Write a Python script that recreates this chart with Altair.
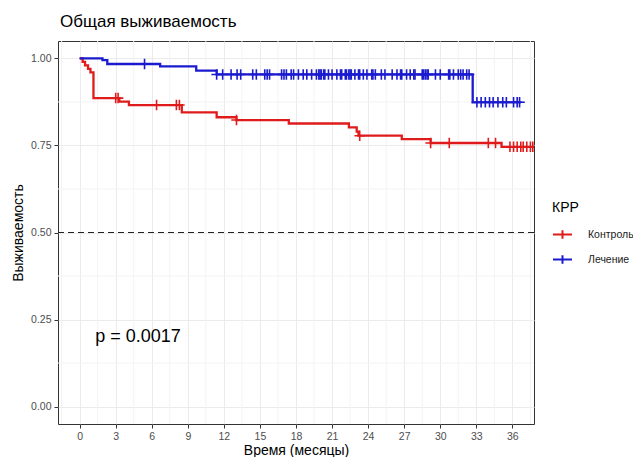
import altair as alt
import pandas as pd

FONT = "Liberation Sans"

# Kaplan-Meier step data (time in months, survival probability)
groups = ["Контроль", "Лечение"]
colors = ["#E01B1B", "#1A1ACF"]

red_t = [0, 0.25, 0.45, 0.7, 0.9, 1.15, 3.3, 4.1, 8.5, 11.4, 13.05, 17.4, 22.4, 23.05, 23.2, 26.8, 29.2, 35.1, 37.9]
red_s = [1.0, 0.99, 0.98, 0.97, 0.96, 0.886, 0.876, 0.866, 0.845, 0.831, 0.823, 0.813, 0.802, 0.79, 0.778, 0.768, 0.757, 0.746, 0.746]
red_cens = [3.0, 3.2, 6.4, 8.05, 8.3, 13.05, 23.3, 29.2, 30.75, 34.0, 34.6, 35.8, 36.1, 36.4, 36.7, 36.9, 37.2, 37.5, 37.7]

blue_t = [0, 1.9, 2.3, 6.7, 9.7, 11.4, 32.7, 36.7]
blue_s = [1.0, 0.995, 0.984, 0.977, 0.965, 0.954, 0.874, 0.874]
blue_cens = [5.4, 11.4, 11.9, 12.6, 13.1, 13.4, 14.4, 14.7, 15.4, 15.6, 15.8, 16.8, 17.0, 17.2,
             17.6, 17.8, 18.2, 18.6, 18.9, 19.3, 19.7, 19.9, 20.0, 20.1, 20.3, 20.4, 20.7, 21.0,
             21.4, 21.7, 21.8, 22.1, 22.2, 22.4, 22.5, 22.6, 22.9, 23.2, 23.3, 23.6, 23.9, 24.3,
             24.4, 24.6, 25.1, 25.4, 26.0, 26.4, 26.7, 26.8, 27.2, 27.5, 27.8, 27.9, 28.5, 28.6,
             28.75, 28.9, 29.0, 29.6, 30.0, 30.7, 30.8, 31.1, 31.5, 31.7, 31.9, 32.2, 32.4,
             33.05, 33.4, 33.75, 34.1, 34.4, 34.8, 35.2, 35.5, 36.1, 36.4, 36.6]

x_ticks = [0, 3, 6, 9, 12, 15, 18, 21, 24, 27, 30, 33, 36]
y_ticks = [0.0, 0.25, 0.5, 0.75, 1.0]
x_minor = [-1.5, 1.5, 4.5, 7.5, 10.5, 13.5, 16.5, 19.5, 22.5, 25.5, 28.5, 31.5, 34.5, 37.5]
y_minor = [0.125, 0.375, 0.625, 0.875]
median_line = [0.5]

p_text = ["p = 0.0017"]
p_x = [1.3]
p_y = [0.2]


def surv_at(t, times, surv):
    s = surv[0]
    for ti, si in zip(times, surv):
        if ti <= t:
            s = si
    return s


lines = pd.concat([
    pd.DataFrame({"t": red_t, "s": red_s, "g": groups[0]}),
    pd.DataFrame({"t": blue_t, "s": blue_s, "g": groups[1]}),
])
cens = pd.concat([
    pd.DataFrame({"t": red_cens, "s": [surv_at(c, red_t, red_s) for c in red_cens], "g": groups[0]}),
    pd.DataFrame({"t": blue_cens, "s": [surv_at(c, blue_t, blue_s) for c in blue_cens], "g": groups[1]}),
])

xscale = alt.Scale(domain=[-1.8, 37.8], nice=False, zero=False)
yscale = alt.Scale(domain=[-0.05, 1.05], nice=False, zero=False)
cscale = alt.Scale(domain=groups, range=colors)

X = alt.X("t:Q", scale=xscale, title="Время (месяцы)",
          axis=alt.Axis(values=x_ticks, format="d"))
Y = alt.Y("s:Q", scale=yscale, title="Выживаемость",
          axis=alt.Axis(values=y_ticks, format=".2f"))

PLUS = "M-1,0L1,0M0,-1L0,1"
LEG_SYM = "M-1,0L1,0M0,-0.45L0,0.45"

minor_x = alt.Chart(pd.DataFrame({"t": x_minor})).mark_rule(
    color="#F3F3F3", strokeWidth=1
).encode(x=X)

minor_y = alt.Chart(pd.DataFrame({"s": y_minor})).mark_rule(
    color="#F3F3F3", strokeWidth=1
).encode(y=Y)

dash = alt.Chart(pd.DataFrame({"s": median_line})).mark_rule(
    color="#222222", strokeWidth=1.1, strokeDash=[6, 4]
).encode(y=Y)

line = alt.Chart(lines).mark_line(interpolate="step-after", strokeWidth=2.3, clip=True).encode(
    x=X,
    y=Y,
    color=alt.Color("g:N", scale=cscale, title="КРР",
                    legend=alt.Legend(orient="none", legendX=494, legendY=160,
                                      symbolType=LEG_SYM, symbolSize=361,
                                      symbolStrokeWidth=2, symbolFillColor="transparent",
                                      titleFontSize=14, titleFontWeight="normal",
                                      titleColor="black", titlePadding=9,
                                      labelFontSize=10.5, labelColor="#1a1a1a",
                                      rowPadding=6, labelOffset=15)),
)

points = alt.Chart(cens).mark_point(shape=PLUS, filled=False, size=110, strokeWidth=1.6,
                                    opacity=1, clip=True).encode(
    x=X,
    y=Y,
    color=alt.Color("g:N", scale=cscale, legend=None),
)

ptext = alt.Chart(pd.DataFrame({"t": p_x, "s": p_y, "label": p_text})).mark_text(
    align="left", baseline="middle", fontSize=18, font=FONT, color="black"
).encode(x=X, y=Y, text="label:N")

chart = alt.layer(minor_x, minor_y, line, dash, points, ptext).properties(
    width=476, height=383,
    title=alt.TitleParams("Общая выживаемость", anchor="start", frame="group", fontSize=17,
                          fontWeight="normal", font=FONT, color="black", offset=10, dx=2),
    autosize=alt.AutoSizeParams(type="none"),
    padding={"left": 50, "top": 33, "right": 99, "bottom": 33},
).configure_view(
    stroke="#333333", strokeWidth=1
).configure_axis(
    labelFont=FONT, titleFont=FONT, labelFontSize=10.5, labelColor="#4D4D4D",
    titleFontSize=14, titleFontWeight="normal", titleColor="black",
    gridColor="#EBEBEB", gridWidth=1, domain=False,
    tickColor="#333333", tickSize=4,
).configure_axisX(
    titlePadding=2, labelPadding=3
).configure_axisY(
    titlePadding=5, labelPadding=3
).configure_legend(
    labelFont=FONT, titleFont=FONT
)

chart.save("out.html", embed_options={"renderer": "svg", "actions": False})
